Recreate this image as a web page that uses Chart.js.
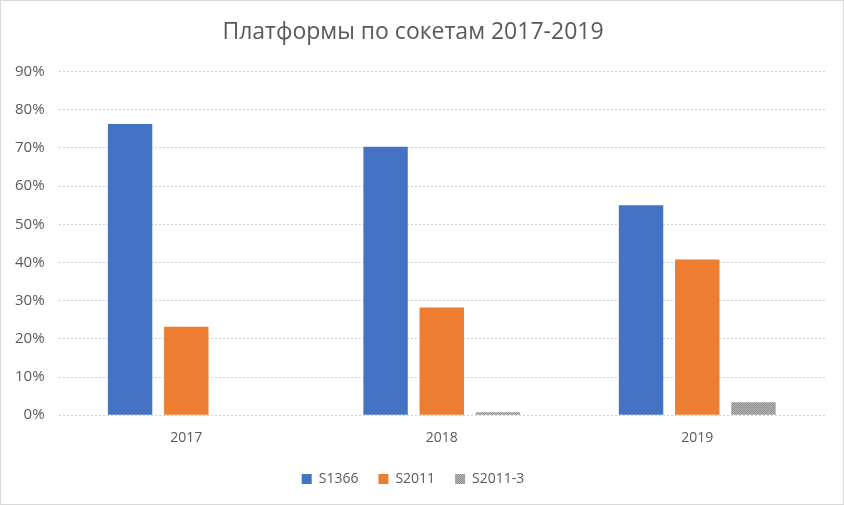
<!DOCTYPE html>
<html>
<head>
<meta charset="utf-8">
<script src="https://cdn.jsdelivr.net/npm/chart.js@4"></script>
<style>
    html, body { margin: 0; padding: 0; background: #fff; }
    #wrap { position: relative; width: 842px; height: 503px; border: 1px solid #d9d9d9; }
</style>
</head>
<body>
<div id="wrap"><canvas id="chart"></canvas></div>
<script>
// chart data
const years = ['2017', '2018', '2019'];
const s1366 = [76.3, 70.3, 55.0];
const s2011 = [23.2, 28.2, 40.8];
const s2011_3 = [0, 0.8, 3.4];
const yTicks = [0, 10, 20, 30, 40, 50, 60, 70, 80, 90];

// dotted grey fill for the third series
function greyPattern() {
    const c = document.createElement('canvas');
    c.width = 2;
    c.height = 2;
    const g = c.getContext('2d');
    g.fillStyle = '#b4b4b4';
    g.fillRect(0, 0, 2, 2);
    g.fillStyle = '#8f8f8f';
    g.fillRect(0, 0, 1, 1);
    g.fillRect(1, 1, 1, 1);
    return g.createPattern(c, 'repeat');
}

const font = "'Open Sans', 'Liberation Sans', sans-serif";
const textColor = '#595959';

new Chart(document.getElementById('chart').getContext('2d'), {
    type: 'bar',
    data: {
        labels: years,
        datasets: [
            { label: 'S1366', data: s1366, backgroundColor: '#4472c4' },
            { label: 'S2011', data: s2011, backgroundColor: '#ed7d31' },
            { label: 'S2011-3', data: s2011_3, backgroundColor: greyPattern() }
        ]
    },
    options: {
        responsive: true,
        maintainAspectRatio: false,
        animation: false,
        layout: { padding: { left: 0, right: 18, top: 4, bottom: 8 } },
        datasets: {
            bar: { categoryPercentage: 0.66, barPercentage: 0.79 }
        },
        plugins: {
            title: {
                display: true,
                text: 'Платформы по сокетам 2017-2019',
                color: textColor,
                font: { family: font, size: 23, weight: 'normal' },
                padding: { top: 14, bottom: 25 }
            },
            legend: {
                position: 'bottom',
                labels: {
                    color: textColor,
                    font: { family: font, size: 14 },
                    boxWidth: 10,
                    boxHeight: 10,
                    padding: 20
                }
            },
            tooltip: { enabled: false }
        },
        scales: {
            x: {
                grid: { display: false },
                border: { display: false },
                ticks: { color: textColor, font: { family: font, size: 14 }, padding: 6 }
            },
            y: {
                min: 0,
                max: 90,
                afterBuildTicks: axis => { axis.ticks = yTicks.map(v => ({ value: v })); },
                grid: { color: '#d0d0d0', lineWidth: 1, tickLength: 0 },
                border: { display: false, dash: [2, 2] },
                ticks: {
                    color: textColor,
                    font: { family: font, size: 15 },
                    padding: 14,
                    callback: v => v + '%'
                }
            }
        }
    }
});
</script>
</body>
</html>
